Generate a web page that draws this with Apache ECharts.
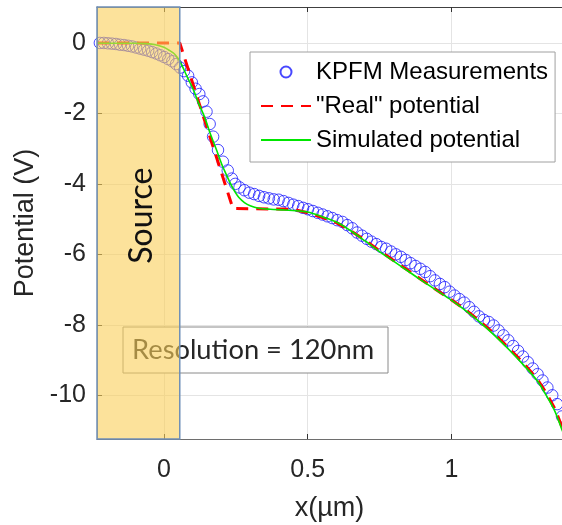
<!DOCTYPE html>
<html><head><meta charset="utf-8">
<script src="https://cdn.jsdelivr.net/npm/echarts@6/dist/echarts.min.js"></script>
<style>html,body{margin:0;padding:0;background:#fff}#c{width:562px;height:525px}</style>
</head><body><div id="c"></div>
<script>
// ---- data ----
const xTicks = [0, 0.5, 1];
const yTicks = [-10, -8, -6, -4, -2, 0];
const xRange = [-0.233, 1.385];
const yRange = [-11.24, 1.02];
const sourceRegion = [-0.233, 0.055];

const kpfmX = [-0.223,-0.209,-0.195,-0.181,-0.167,-0.153,-0.139,-0.125,-0.111,-0.097,-0.083,-0.069,-0.055,-0.041,-0.027,-0.013,0.001,0.015,0.029,0.042,
  0.056,0.07,0.084,0.097,0.11,0.123,0.136,0.148,0.159,0.171,0.188,0.205,0.222,0.236,0.248,0.263,0.28,0.297,0.314,0.331,0.348,0.365,0.382,0.399,0.416,0.433,0.45,0.467,0.484,0.501,0.518,0.535,0.552,0.569,0.586,0.603,
  0.621,0.638,0.655,0.672,0.689,0.706,0.722,0.739,0.756,0.773,0.79,0.807,0.824,0.841,0.858,0.875,0.892,0.909,0.926,0.943,0.96,0.977,0.994,1.011,1.028,1.045,1.062,1.079,1.096,1.113,1.13,1.147,1.164,1.181,1.198,1.215,1.232,1.249,1.266,1.283,1.3,1.317,1.334,1.351,1.368,1.385];
const kpfmV = [0.0,0.0,-0.01,-0.02,-0.03,-0.05,-0.06,-0.08,-0.1,-0.13,-0.16,-0.19,-0.22,-0.26,-0.3,-0.35,-0.4,-0.46,-0.52,-0.6,
  -0.7,-0.8,-0.93,-1.12,-1.3,-1.45,-1.66,-1.95,-2.3,-2.66,-3.04,-3.37,-3.62,-3.85,-4.0,-4.1,-4.18,-4.25,-4.29,-4.34,-4.38,-4.41,-4.44,-4.45,-4.49,-4.54,-4.59,-4.63,-4.68,-4.72,-4.77,-4.82,-4.87,-4.92,-4.97,-5.03,
  -5.08,-5.17,-5.26,-5.38,-5.47,-5.56,-5.64,-5.71,-5.79,-5.84,-5.92,-6.0,-6.07,-6.16,-6.25,-6.33,-6.41,-6.5,-6.62,-6.74,-6.84,-6.93,-7.06,-7.17,-7.27,-7.37,-7.5,-7.63,-7.76,-7.86,-7.92,-8.02,-8.16,-8.3,-8.44,-8.6,-8.74,-8.9,-9.06,-9.24,-9.4,-9.58,-9.78,-10.0,-10.25,-10.6];

const realX = [-0.233,0.055,0.24,0.45,0.5,0.55,0.6,0.65,0.7,0.75,0.8,0.85,0.9,0.95,1.0,1.05,1.1,1.15,1.2,1.25,1.3,1.33,1.36,1.39];
const realV = [0,0,-4.7,-4.72,-4.82,-4.95,-5.1,-5.33,-5.6,-5.9,-6.18,-6.46,-6.74,-7.02,-7.29,-7.58,-7.9,-8.26,-8.66,-9.08,-9.55,-9.93,-10.38,-11.0];

const simX = [-0.233,-0.15,-0.1,-0.06,-0.03,0,0.02,0.035,0.05,0.065,0.08,0.095,0.107,0.12,0.142,0.16,0.183,0.2,0.215,0.229,0.245,0.26,0.28,0.3,0.33,0.37,0.42,0.47,0.5,0.55,0.6,0.65,0.7,0.75,0.8,0.85,0.9,0.95,1.0,1.05,1.1,1.15,1.2,1.25,1.3,1.33,1.36,1.385,1.4];
const simV = [0,-0.01,-0.01,-0.02,-0.05,-0.12,-0.22,-0.3,-0.45,-0.68,-0.95,-1.2,-1.42,-1.7,-2.12,-2.55,-3.04,-3.42,-3.7,-3.95,-4.2,-4.38,-4.53,-4.62,-4.69,-4.72,-4.74,-4.77,-4.8,-4.93,-5.08,-5.33,-5.62,-5.92,-6.2,-6.48,-6.76,-7.03,-7.3,-7.6,-7.93,-8.3,-8.7,-9.13,-9.6,-10.0,-10.45,-10.98,-11.3];

const zip = (a, b) => a.map((v, i) => [v, b[i]]);

const chart = echarts.init(document.getElementById('c'), null, {renderer: 'canvas'});
const tickFont = 'Liberation Sans, Arial, sans-serif';
const axisCol = '#6e6e6e';
const noDot = {color: 'rgba(0,0,0,0)', borderWidth: 0, opacity: 0};

chart.setOption({
  animation: false,
  backgroundColor: '#fff',
  grid: {left: 97, right: 0, top: 7, bottom: 86, containLabel: false, outerBoundsMode: 'none'},
  xAxis: [{
    type: 'value', position: 'bottom', min: xRange[0], max: xRange[1],
    axisLine: {show: true, onZero: false, lineStyle: {color: axisCol, width: 1}},
    axisTick: {show: true, inside: true, length: 5, customValues: xTicks, lineStyle: {color: '#333'}},
    axisLabel: {customValues: xTicks, fontSize: 25, color: '#262626', margin: 19, fontFamily: tickFont},
    splitLine: {show: true, lineStyle: {color: '#e4e4e4', width: 1}},
    name: 'x(µm)', nameLocation: 'middle', nameGap: 56,
    nameTextStyle: {fontSize: 27, color: '#262626', fontFamily: tickFont}
  }, {
    type: 'value', position: 'top', min: xRange[0], max: xRange[1],
    axisLine: {show: true, onZero: false, lineStyle: {color: '#404040', width: 1}},
    axisTick: {show: true, inside: true, length: 5, customValues: xTicks, lineStyle: {color: '#333'}},
    axisLabel: {show: false}, splitLine: {show: false}
  }],
  yAxis: [{
    type: 'value', min: yRange[0], max: yRange[1],
    axisLine: {show: true, onZero: false, lineStyle: {color: axisCol, width: 1}},
    axisTick: {show: true, inside: true, length: 5, customValues: yTicks, lineStyle: {color: '#333'}},
    axisLabel: {customValues: yTicks, fontSize: 25, color: '#262626', margin: 11, fontFamily: tickFont},
    splitLine: {show: true, lineStyle: {color: '#e4e4e4', width: 1}},
    name: 'Potential (V)', nameLocation: 'middle', nameGap: 54,
    nameTextStyle: {fontSize: 27, color: '#262626', fontFamily: tickFont}
  }],
  legend: {
    orient: 'vertical', left: 250, top: 52, padding: [8, 7, 10, 10], itemGap: 10,
    itemWidth: 50, itemHeight: 11,
    backgroundColor: '#fff', borderColor: '#a0a0a0', borderWidth: 1, borderRadius: 0,
    textStyle: {fontFamily: tickFont, fontSize: 24, color: '#000', lineHeight: 24},
    data: [
      {name: 'KPFM Measurements', icon: 'circle'},
      {name: '"Real" potential', itemStyle: noDot},
      {name: 'Simulated potential', itemStyle: noDot}
    ]
  },
  series: [{
    name: 'KPFM Measurements', type: 'scatter', data: zip(kpfmX, kpfmV),
    symbol: 'circle', symbolSize: 11.5,
    itemStyle: {color: 'rgba(0,0,0,0)', borderColor: '#1a1aff', borderWidth: 1},
    z: 2
  }, {
    name: '"Real" potential', type: 'line', data: zip(realX, realV),
    symbol: 'none', lineStyle: {color: '#ff0000', width: 3, type: [12, 8]},
    itemStyle: {color: 'rgba(0,0,0,0)'}, z: 3
  }, {
    name: 'Simulated potential', type: 'line', data: zip(simX, simV),
    symbol: 'none', smooth: 0.3, lineStyle: {color: '#00e600', width: 1.6},
    itemStyle: {color: 'rgba(0,0,0,0)'}, z: 4
  }]
});

// annotations positioned through the axis scales
const p0 = chart.convertToPixel({gridIndex: 0}, [sourceRegion[0], yRange[1]]);
const p1 = chart.convertToPixel({gridIndex: 0}, [sourceRegion[1], yRange[0]]);
const srcMid = chart.convertToPixel({gridIndex: 0}, [(sourceRegion[0] + sourceRegion[1]) / 2, -4.9]);

chart.setOption({
  graphic: [{
    type: 'group', z: 50, children: [{
      type: 'rect', shape: {x: 123, y: 327, width: 265, height: 46},
      style: {fill: '#fff', stroke: '#8a8a8a', lineWidth: 1}
    }, {
      type: 'text', x: 132, y: 350,
      style: {text: 'Resolution = 120nm', font: '27.3px Lato, "Open Sans", sans-serif', fill: '#262626', textVerticalAlign: 'middle'}
    }]
  }, {
    type: 'rect', z: 100,
    shape: {x: p0[0], y: p0[1], width: p1[0] - p0[0], height: p1[1] - p0[1]},
    style: {fill: 'rgba(250,207,88,0.6)', stroke: '#6f8fb8', lineWidth: 1.5}
  }, {
    type: 'text', z: 110, x: srcMid[0] + 3, y: srcMid[1], rotation: Math.PI / 2,
    style: {text: 'Source', font: '32px Lato, "Open Sans", sans-serif', fill: '#111', textAlign: 'center', textVerticalAlign: 'middle'}
  }]
});
</script>
</body></html>
